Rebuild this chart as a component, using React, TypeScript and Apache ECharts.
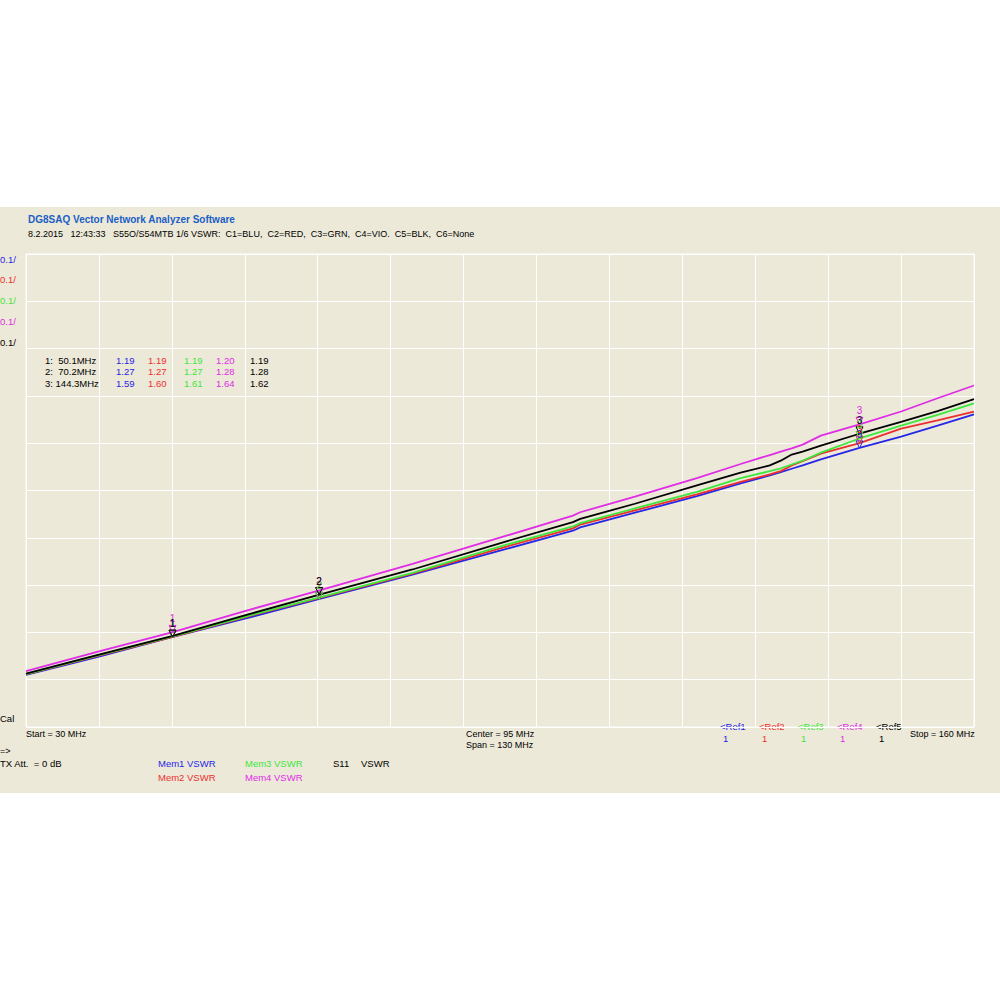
import React, { useEffect, useRef } from "react";
import * as echarts from "echarts";

const freqs = [30, 40, 50, 60, 70, 83, 96, 105, 106, 113.5, 122, 128, 132, 133.5, 135, 136.5, 139, 144.3, 150, 155, 160];

const mem1 = [1.110, 1.149, 1.190, 1.229, 1.270, 1.322, 1.377, 1.415, 1.422, 1.453, 1.488, 1.515, 1.532, 1.539, 1.546, 1.553, 1.566, 1.590, 1.614, 1.637, 1.661];
const mem2 = [1.111, 1.151, 1.190, 1.232, 1.272, 1.324, 1.382, 1.420, 1.428, 1.458, 1.492, 1.518, 1.534, 1.541, 1.553, 1.562, 1.578, 1.600, 1.631, 1.648, 1.667];
const mem3 = [1.112, 1.152, 1.191, 1.233, 1.273, 1.326, 1.386, 1.424, 1.431, 1.462, 1.497, 1.526, 1.541, 1.547, 1.555, 1.563, 1.580, 1.610, 1.637, 1.660, 1.684];
const mem4 = [1.118, 1.160, 1.200, 1.245, 1.288, 1.345, 1.405, 1.447, 1.454, 1.487, 1.526, 1.556, 1.575, 1.582, 1.589, 1.597, 1.616, 1.640, 1.667, 1.695, 1.722];
const s11 = [1.113, 1.153, 1.192, 1.236, 1.279, 1.333, 1.393, 1.433, 1.440, 1.472, 1.511, 1.538, 1.553, 1.563, 1.576, 1.582, 1.595, 1.620, 1.645, 1.668, 1.693];

const markerFreqs = [50.1, 70.2, 144.3];
const markerLabels = ["1:  50.1MHz", "2:  70.2MHz", "3: 144.3MHz"];
const markerMem1 = [1.19, 1.27, 1.59];
const markerMem2 = [1.19, 1.27, 1.6];
const markerMem3 = [1.19, 1.27, 1.61];
const markerMem4 = [1.2, 1.28, 1.64];
const markerS11 = [1.19, 1.28, 1.62];

const seriesNames = ["Mem1 VSWR", "Mem2 VSWR", "Mem3 VSWR", "Mem4 VSWR", "S11 VSWR"];
const colors = ["#2626e6", "#ec2f2f", "#3ee63e", "#e02ce6", "#000000"];
const scaleLabels = ["0.1/", "0.1/", "0.1/", "0.1/", "0.1/"];
const refLabels = ["<Ref1", "<Ref2", "<Ref3", "<Ref4", "<Ref5"];
const refValues = ["1", "1", "1", "1", "1"];

const FONT = '"Liberation Sans", Arial, sans-serif';

export default function App() {
  const ref = useRef<HTMLDivElement>(null);
  useEffect(() => {
    if (!ref.current) return;
    const chart = echarts.init(ref.current, undefined, { renderer: "svg" });
    const data = [mem1, mem2, mem3, mem4, s11];
    const markers = [markerMem1, markerMem2, markerMem3, markerMem4, markerS11];

    const txt = (text: string, x: number, y: number, fill = "#000", size = 10, weight = "normal", align = "left") => ({
      type: "text",
      x,
      y,
      silent: true,
      style: { text, fill, font: `${weight} ${size}px ${FONT}`, verticalAlign: "middle", align },
    });

    const graphics: any[] = [];
    graphics.push(txt("DG8SAQ Vector Network Analyzer Software", 28, 219, "#1b5ec6", 10, "bold"));
    graphics.push(
      txt("8.2.2015   12:43:33   S55O/S54MTB 1/6 VSWR:  C1=BLU,  C2=RED,  C3=GRN,  C4=VIO.  C5=BLK,  C6=None", 28, 234, "#000", 9)
    );
    scaleLabels.forEach((s, i) => graphics.push(txt(s, 0, 259 + i * 20.8, colors[i], 9.5)));
    markerLabels.forEach((s, r) => {
      graphics.push(txt(s, 45, 360 + r * 11.5, "#000", 9.5));
      const cols = [116, 148, 184, 216, 250];
      markers.forEach((m, c) => graphics.push(txt(m[r].toFixed(2), cols[c], 360 + r * 11.5, colors[c], 9.5)));
    });
    graphics.push(txt("Cal", 0, 718, "#000", 9.5));
    graphics.push(txt("Start = 30 MHz", 26, 734, "#000", 9));
    graphics.push(txt("Center = 95 MHz", 466, 734, "#000", 9));
    graphics.push(txt("Span = 130 MHz", 466, 745, "#000", 9));
    graphics.push(txt("Stop = 160 MHz", 910, 734, "#000", 9));
    graphics.push(txt("=>", 0, 751, "#000", 9));
    graphics.push(txt("TX Att.  = 0 dB", 0, 763, "#000", 9.5));
    const memPos = [
      [158, 763],
      [158, 777],
      [245, 763],
      [245, 777],
    ];
    memPos.forEach((p, i) => graphics.push(txt(seriesNames[i], p[0], p[1], colors[i], 9.5)));
    graphics.push(txt("S11", 333, 763, "#000", 9.5));
    graphics.push(txt("VSWR", 361, 763, "#000", 9.5));
    refLabels.forEach((s, i) => {
      const x = 720 + i * 39;
      graphics.push(txt(s, x, 726, colors[i], 9.5));
      graphics.push(txt(refValues[i], x + 3, 738, colors[i], 9.5));
    });

    const series = data.map((d, si) => ({
      name: seriesNames[si],
      type: "line",
      data: freqs.map((f, i) => [f, d[i]]),
      showSymbol: false,
      lineStyle: { color: colors[si], width: 1.8 },
      itemStyle: { color: colors[si] },
      z: si === 4 ? 3 : 2,
      markPoint: {
        symbol: "path://M0,0 L10,0 L5,10 Z",
        symbolSize: [7, 7],
        symbolOffset: [0, -3.5],
        itemStyle: { color: "rgba(0,0,0,0)", borderColor: colors[si], borderWidth: 1 },
        label: {
          show: true,
          position: "top",
          distance: 1,
          color: colors[si],
          fontSize: 10,
          fontFamily: FONT,
          formatter: (p: any) => String(p.value),
        },
        data: markerFreqs.map((f, i) => ({ coord: [f, markers[si][i]], value: i + 1 })),
      },
    }));

    chart.setOption({
      animation: false,
      backgroundColor: "transparent",
      grid: { left: 26, right: 26, top: 254, bottom: 273, show: true, borderColor: "#ffffff", borderWidth: 1, backgroundColor: "transparent" },
      xAxis: {
        type: "value",
        min: 30,
        max: 160,
        interval: 10,
        axisLine: { show: false },
        axisTick: { show: false },
        axisLabel: { show: false },
        splitLine: { show: true, lineStyle: { color: "#ffffff", width: 1 } },
      },
      yAxis: {
        type: "value",
        min: 1,
        max: 2,
        interval: 0.1,
        axisLine: { show: false },
        axisTick: { show: false },
        axisLabel: { show: false },
        splitLine: { show: true, lineStyle: { color: "#ffffff", width: 1 } },
      },
      series,
      graphic: { elements: graphics },
    });
    return () => chart.dispose();
  }, []);

  return (
    <div
      ref={ref}
      style={{
        position: "absolute",
        left: 0,
        top: 0,
        width: 1000,
        height: 1000,
        background: "linear-gradient(to bottom, #ffffff 0px, #ffffff 207px, #ece9d8 207px, #ece9d8 793px, #ffffff 793px)",
      }}
    />
  );
}
